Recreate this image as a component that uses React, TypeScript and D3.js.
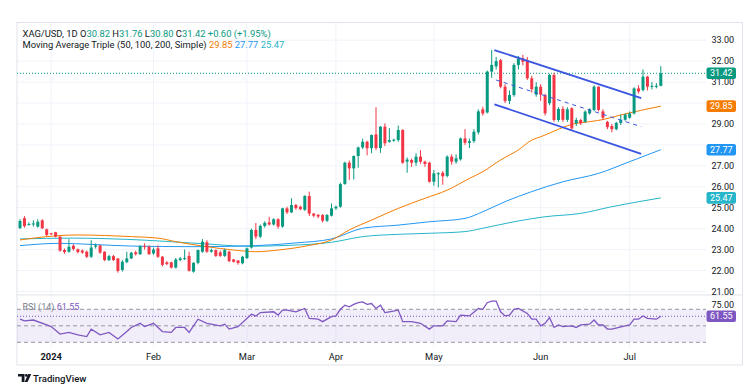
import React from 'react';
import * as d3 from 'd3';

// ---------- data ----------
const opens = [
  24.03, 24.5, 24.2, 24.2, 24.1, 24.4, 23.97, 23.78, 23.83, 23.62,
  22.98, 22.9, 23.19, 23.02, 22.96, 22.9, 22.66, 23.14, 23.2, 22.9,
  22.5, 22.69, 22.58, 22.03, 22.4, 22.58, 22.87, 22.78, 23.17, 23.14,
  22.82, 23.06, 22.66, 22.39, 22.39, 22.14, 22.5, 22.55, 22.7, 21.95,
  22.37, 22.9, 23.35, 22.9, 22.98, 22.87, 22.7, 22.9, 22.53, 22.48,
  22.35, 22.6, 23.1, 23.94, 23.62, 24.13, 24.3, 24.2, 24.45, 24.1,
  24.97, 24.78, 25.13, 25.05, 24.9, 25.56, 24.72, 24.66, 24.65, 24.38,
  24.62, 24.97, 25.05, 26.13, 27.15, 26.88, 27.47, 27.88, 28.15, 27.84,
  28.5, 27.85, 28.87, 28.15, 28.2, 28.23, 28.71, 27.2, 27.28, 27.15,
  27.44, 27.2, 27.15, 26.24, 26.6, 26.67, 26.52, 27.44, 27.2, 27.31,
  28.31, 28.1, 28.18, 28.6, 29.7, 29.55, 31.5, 31.75, 32.05, 30.78,
  30.1, 30.38, 31.82, 32.13, 32.05, 31.18, 30.4, 30.78, 30.38, 29.99,
  31.34, 29.19, 29.72, 29.2, 29.75, 29.03, 29.19, 29.1, 29.5, 29.67,
  30.78, 29.6, 29.1, 28.9, 28.75, 29.05, 29.2, 29.3, 29.5, 30.7,
  30.62, 31.26, 30.78, 30.8, 30.82,
];
const highs = [
  24.45, 24.6, 24.3, 24.4, 24.45, 24.45, 24.0, 23.8, 23.85, 23.65,
  23.05, 23.5, 23.25, 23.05, 23.0, 22.95, 23.45, 23.3, 23.22, 22.92,
  22.75, 22.75, 22.6, 22.5, 22.9, 22.9, 22.95, 23.2, 23.3, 23.2,
  23.1, 23.2, 22.7, 22.45, 22.42, 22.6, 22.65, 23.0, 22.9, 22.4,
  23.0, 23.5, 23.45, 23.05, 23.0, 22.95, 23.05, 22.95, 22.56, 22.5,
  22.7, 23.1, 24.0, 24.27, 24.2, 24.35, 24.57, 24.5, 24.5, 25.0,
  25.05, 25.45, 25.18, 25.1, 25.6, 25.77, 24.75, 24.7, 24.7, 24.7,
  25.2, 25.1, 26.2, 27.2, 27.25, 27.5, 27.92, 28.3, 28.2, 28.5,
  29.8, 28.9, 29.03, 28.8, 28.3, 28.92, 28.75, 27.4, 27.35, 27.6,
  27.75, 27.25, 27.2, 26.8, 26.7, 26.75, 27.5, 27.55, 27.55, 28.35,
  28.75, 28.3, 28.75, 29.7, 29.82, 31.55, 32.53, 32.2, 32.1, 30.9,
  30.6, 31.9, 32.25, 32.3, 32.2, 31.3, 31.0, 30.9, 30.45, 31.4,
  31.45, 29.8, 29.85, 29.8, 29.8, 29.3, 29.25, 29.65, 29.75, 30.85,
  30.8, 29.7, 29.15, 29.0, 29.1, 29.45, 29.5, 29.6, 30.75, 30.85,
  31.6, 31.3, 31.0, 30.95, 31.76,
];
const lows = [
  23.98, 24.05, 24.15, 24.1, 24.05, 23.98, 23.65, 23.7, 23.58, 22.9,
  22.8, 22.85, 22.95, 22.82, 22.8, 22.6, 22.6, 23.05, 22.8, 22.45,
  22.45, 22.45, 21.9, 21.95, 22.35, 22.55, 22.72, 22.75, 23.0, 22.75,
  22.75, 22.6, 22.2, 22.25, 22.1, 22.1, 22.45, 22.5, 21.95, 21.9,
  22.3, 22.85, 22.85, 22.85, 22.65, 22.65, 22.65, 22.4, 22.38, 22.28,
  22.3, 22.55, 23.05, 23.5, 23.55, 24.05, 24.15, 24.15, 24.0, 24.05,
  24.7, 24.75, 24.9, 24.88, 24.85, 24.6, 24.55, 24.5, 24.3, 24.32,
  24.58, 24.9, 25.0, 26.1, 26.33, 26.35, 26.91, 27.8, 27.5, 27.6,
  27.75, 27.62, 27.95, 28.1, 28.15, 28.15, 27.1, 26.67, 26.95, 27.0,
  27.1, 26.95, 26.2, 26.05, 25.97, 26.1, 26.45, 27.05, 27.1, 27.25,
  28.0, 27.85, 28.1, 28.5, 29.4, 29.5, 31.2, 31.6, 30.7, 30.0,
  29.95, 30.3, 31.6, 31.8, 31.1, 30.5, 30.3, 30.1, 29.4, 29.9,
  29.1, 29.1, 29.1, 29.1, 28.7, 28.9, 28.95, 29.05, 29.45, 29.6,
  29.6, 29.2, 28.75, 28.6, 28.7, 28.95, 29.15, 29.25, 29.45, 30.45,
  30.55, 30.6, 30.65, 30.7, 30.8,
];
const closes = [
  24.37, 24.12, 24.22, 24.25, 24.33, 24.02, 23.7, 23.74, 23.62, 22.95,
  22.88, 23.14, 23.03, 22.88, 22.86, 22.66, 23.1, 23.2, 22.86, 22.5,
  22.69, 22.5, 21.98, 22.42, 22.58, 22.85, 22.78, 23.17, 23.15, 22.78,
  23.0, 22.66, 22.27, 22.31, 22.14, 22.53, 22.58, 22.6, 21.99, 22.37,
  22.98, 23.38, 22.9, 22.98, 22.7, 22.7, 22.98, 22.45, 22.42, 22.36,
  22.66, 23.06, 23.94, 23.62, 24.13, 24.28, 24.2, 24.45, 24.1, 24.97,
  24.78, 25.13, 24.98, 24.93, 25.56, 24.72, 24.62, 24.58, 24.38, 24.65,
  24.97, 25.05, 26.13, 27.15, 26.88, 27.47, 27.88, 28.15, 27.84, 28.47,
  27.85, 28.87, 28.08, 28.23, 28.25, 28.71, 27.15, 27.3, 27.15, 27.44,
  27.2, 27.09, 26.24, 26.64, 26.65, 26.5, 27.44, 27.2, 27.36, 28.31,
  28.1, 28.18, 28.63, 29.6, 29.5, 31.5, 31.82, 32.0, 30.78, 30.1,
  30.38, 31.82, 32.13, 31.97, 31.18, 30.66, 30.78, 30.4, 29.51, 31.34,
  29.19, 29.72, 29.2, 29.7, 28.79, 29.19, 29.03, 29.59, 29.7, 30.78,
  29.67, 29.3, 28.85, 28.75, 29.05, 29.2, 29.45, 29.5, 30.7, 30.55,
  31.26, 30.78, 30.82, 30.82, 31.42,
];

// moving averages read at sample bars: [bar index, value]
const ma50: [number, number][] = [
  [0, 23.46], [5, 23.6], [13, 23.7], [25, 23.62], [31, 23.55], [35, 23.38],
  [42, 23.14], [48, 22.98], [53, 22.9], [58, 22.98], [65, 23.2], [70, 23.46],
  [74, 23.94], [79, 24.41], [85, 24.97], [91, 25.45], [96, 25.84], [101, 26.4],
  [104, 26.72], [108, 27.28], [112, 27.76], [115, 28.23], [117, 28.39],
  [125, 29.03], [128, 29.11], [131, 29.21], [135, 29.43], [144, 29.85],
];
const ma100: [number, number][] = [
  [0, 23.19], [9, 23.3], [16, 23.25], [25, 23.17], [39, 23.14], [53, 23.19],
  [62, 23.32], [70, 23.51], [77, 24.02], [85, 24.17], [92, 24.33], [100, 24.49],
  [104, 24.81], [109, 25.29], [115, 25.77], [122, 26.24], [130, 26.64],
  [137, 27.2], [144, 27.77],
];
const ma200: [number, number][] = [
  [0, 23.51], [12, 23.55], [24, 23.49], [42, 23.27], [51, 23.16], [60, 23.2],
  [70, 23.35], [77, 23.62], [85, 23.73], [92, 23.78], [100, 23.86], [104, 24.02],
  [111, 24.33], [118, 24.57], [126, 24.73], [133, 25.05], [144, 25.47],
];

// RSI(14) read at sample bars: [bar index, value]
const rsi: [number, number][] = [
  [0, 58], [1, 56], [3, 57], [6, 51], [7, 49], [9, 40], [11, 42], [13, 39],
  [15, 37], [16, 46], [18, 39], [20, 42], [22, 34], [24, 43], [25, 48], [27, 53],
  [28, 49], [30, 53], [32, 43], [34, 42], [35, 48], [37, 48], [38, 42], [40, 58],
  [42, 53], [45, 50], [46, 52], [47, 46], [49, 49], [52, 64], [53, 62], [54, 66],
  [57, 67], [58, 63], [59, 69], [60, 69], [62, 67], [64, 71], [65, 59], [67, 58],
  [68, 55], [70, 61], [71, 62], [72, 70], [73, 75], [74, 73], [75, 76], [76, 78],
  [77, 79], [78, 76], [79, 77], [80, 71], [81, 75], [82, 66], [83, 67], [85, 69],
  [86, 55], [88, 55], [90, 53], [92, 46], [93, 50], [95, 50], [96, 56], [98, 55],
  [99, 63], [101, 62], [103, 71], [104, 70], [105, 78], [106, 80], [107, 80],
  [108, 67], [109, 62], [110, 63], [111, 70], [112, 71], [114, 65], [115, 58],
  [116, 58], [117, 50], [118, 53], [119, 60], [120, 48], [121, 51], [122, 49],
  [124, 50], [125, 48], [126, 51], [128, 52], [129, 57], [130, 51], [131, 51],
  [132, 46], [133, 46], [136, 50], [137, 51], [138, 58], [139, 58], [140, 62],
  [141, 59], [143, 58], [144, 61.55],
];

// descending channel drawn on the chart: [bar index, price]
const channelUpper: [number, number][] = [[106.6, 32.53], [139.6, 30.23]];
const channelLower: [number, number][] = [[106.6, 29.94], [139.6, 27.57]];
const channelMid: [number, number][] = [[107.0, 31.1], [139.6, 28.87]];

const monthIdx = [7, 30, 51, 71, 93, 117, 137];
const monthLabels = ['2024', 'Feb', 'Mar', 'Apr', 'May', 'Jun', 'Jul'];
const priceTicks = [21, 22, 23, 24, 25, 26, 27, 28, 29, 30, 31, 32, 33];
const rsiLevels = [70, 50, 30];
const lastClose = 31.42;
const lastMA = [29.85, 27.77, 25.47];
const lastRsi = 61.55;

// ---------- styling ----------
const UP = '#089981';
const DOWN = '#F23645';
const C50 = '#F57C00';
const C100 = '#2196F3';
const C200 = '#26B5C9';
const CHAN = '#3A55E0';
const RSI_C = '#7E57C2';
const GRID = '#f0f3fa';
const BORDER = '#e0e3eb';
const TXT = '#131722';
const FONT = 'Roboto, "Liberation Sans", sans-serif';

const W = 753;
const H = 387;
const plotL = 17;
const plotR = 706;
const frameR = 742.5;
const frameT = 22.5;
const mainB = 295;
const rsiB = 347;
const frameB = 365;

export default function App() {
  const n = closes.length;
  const x = d3.scaleLinear().domain([0, n - 1]).range([20, 660.8]);
  const y = d3.scaleLinear().domain([21, 33]).range([291.5, 40.2]);
  const yr = d3.scaleLinear().domain([30, 70]).range([342.3, 309.3]);

  const maLine = d3
    .line<[number, number]>()
    .x((d) => x(d[0]))
    .y((d) => y(d[1]))
    .curve(d3.curveMonotoneX);
  const straight = d3
    .line<[number, number]>()
    .x((d) => x(d[0]))
    .y((d) => y(d[1]));
  const rsiLine = d3
    .line<[number, number]>()
    .x((d) => x(d[0]))
    .y((d) => yr(d[1]));

  const bodyW = 3;
  const maColors = [C50, C100, C200];

  // price-axis tick labels hidden behind the value badges (as TradingView does)
  const badgeYs = [lastClose, ...lastMA].map((v) => y(v));
  const visibleTicks = priceTicks.filter((p) =>
    badgeYs.every((by) => Math.abs(by - y(p)) > 8)
  );

  const box = (val: number, yy: number, color: string, key: string) => (
    <g key={key}>
      <rect x={706.5} y={yy - 5.8} width={29.5} height={11.6} rx={2} fill={color} />
      <text
        x={721.25}
        y={yy + 3.2}
        textAnchor="middle"
        fontSize={9}
        fill="#fff"
        fontFamily={FONT}
      >
        {val.toFixed(2)}
      </text>
    </g>
  );

  return (
    <svg
      width={W}
      height={H}
      style={{ position: 'absolute', left: 0, top: 0, background: '#fff' }}
      fontFamily={FONT}
    >
      <defs>
        <clipPath id="mainClip">
          <rect x={plotL} y={frameT} width={plotR - plotL} height={mainB - frameT} />
        </clipPath>
        <clipPath id="rsiClip">
          <rect x={plotL} y={mainB} width={plotR - plotL} height={rsiB - mainB} />
        </clipPath>
      </defs>
      <rect x={0} y={0} width={W} height={H} fill="#fff" />

      {/* grid */}
      {priceTicks.map((p) => (
        <line key={'hg' + p} x1={plotL} x2={plotR} y1={y(p)} y2={y(p)} stroke={GRID} />
      ))}
      {monthIdx.map((i) => (
        <line key={'vg' + i} x1={x(i)} x2={x(i)} y1={frameT} y2={rsiB} stroke={GRID} />
      ))}

      {/* frame */}
      <rect
        x={plotL}
        y={frameT}
        width={frameR - plotL}
        height={frameB - frameT}
        fill="none"
        stroke={BORDER}
      />
      <line x1={plotL} x2={frameR} y1={mainB} y2={mainB} stroke={BORDER} />

      {/* main pane */}
      <g clipPath="url(#mainClip)">
        {[ma200, ma100, ma50].map((s, k) => (
          <path
            key={'ma' + k}
            d={maLine(s) || ''}
            fill="none"
            stroke={[C200, C100, C50][k]}
            strokeWidth={1}
          />
        ))}
        <line
          x1={plotL}
          x2={plotR}
          y1={y(lastClose)}
          y2={y(lastClose)}
          stroke={UP}
          strokeDasharray="1,2"
          strokeWidth={1}
        />
        {closes.map((c, i) => {
          const o = opens[i];
          const col = c >= o ? UP : DOWN;
          const top = y(Math.max(o, c));
          const bot = y(Math.min(o, c));
          return (
            <g key={'c' + i}>
              <line
                x1={x(i)}
                x2={x(i)}
                y1={y(highs[i])}
                y2={y(lows[i])}
                stroke={col}
                strokeWidth={1}
              />
              <rect
                x={x(i) - bodyW / 2}
                y={top}
                width={bodyW}
                height={Math.max(1, bot - top)}
                fill={col}
              />
            </g>
          );
        })}
        <path d={straight(channelUpper) || ''} stroke={CHAN} strokeWidth={1.8} fill="none" />
        <path d={straight(channelLower) || ''} stroke={CHAN} strokeWidth={1.8} fill="none" />
        <path
          d={straight(channelMid) || ''}
          stroke={CHAN}
          strokeWidth={1}
          strokeDasharray="4,4"
          fill="none"
        />
      </g>

      {/* price axis */}
      {visibleTicks.map((p) => (
        <text
          key={'pt' + p}
          x={711.5}
          y={y(p) + 3.2}
          fontSize={9}
          fill={TXT}
        >
          {p.toFixed(2)}
        </text>
      ))}
      {box(lastClose, y(lastClose), UP, 'b0')}
      {lastMA.map((v, k) => box(v, y(v), maColors[k], 'bm' + k))}

      {/* legend */}
      <text x={22.5} y={36.5} fontSize={9.4} fill={TXT}>
        <tspan>XAG/USD, 1D </tspan>
        <tspan> O</tspan>
        <tspan fill={UP}>{opens[n - 1].toFixed(2)}</tspan>
        <tspan> H</tspan>
        <tspan fill={UP}>{highs[n - 1].toFixed(2)}</tspan>
        <tspan> L</tspan>
        <tspan fill={UP}>{lows[n - 1].toFixed(2)}</tspan>
        <tspan> C</tspan>
        <tspan fill={UP}>{closes[n - 1].toFixed(2)}</tspan>
        <tspan fill={UP}> +0.60 (+1.95%)</tspan>
      </text>
      <text x={22.5} y={47.5} fontSize={9.4} fill={TXT}>
        <tspan>Moving Average Triple (50, 100, 200, Simple)</tspan>
        {lastMA.map((v, k) => (
          <tspan key={'lm' + k} fill={maColors[k]}>
            {'  ' + v.toFixed(2)}
          </tspan>
        ))}
      </text>

      {/* RSI pane */}
      <rect
        x={plotL}
        y={yr(70)}
        width={plotR - plotL}
        height={yr(30) - yr(70)}
        fill={RSI_C}
        fillOpacity={0.1}
      />
      {rsiLevels.map((lv) => (
        <line
          key={'rl' + lv}
          x1={plotL}
          x2={plotR}
          y1={yr(lv)}
          y2={yr(lv)}
          stroke="#9598a1"
          strokeDasharray="4,3"
        />
      ))}
      <line
        x1={plotL}
        x2={plotR}
        y1={yr(lastRsi)}
        y2={yr(lastRsi)}
        stroke={RSI_C}
        strokeDasharray="1,2"
      />
      <g clipPath="url(#rsiClip)">
        <path d={rsiLine(rsi) || ''} fill="none" stroke={RSI_C} strokeWidth={1.3} />
      </g>
      <text x={22.5} y={309.8} fontSize={9} fill="#787b86">
        RSI (14)
        <tspan fill={RSI_C}>{'  ' + lastRsi.toFixed(2)}</tspan>
      </text>
      <text x={711.5} y={yr(75) + 3.2} fontSize={9} fill={TXT}>
        75.00
      </text>
      {box(lastRsi, yr(lastRsi), RSI_C, 'br')}

      {/* time axis */}
      {monthIdx.map((i, k) => (
        <text
          key={'ml' + k}
          x={x(i)}
          y={359.5}
          textAnchor="middle"
          fontSize={9.3}
          fontWeight={k === 0 ? 700 : 400}
          fill={TXT}
        >
          {monthLabels[k]}
        </text>
      ))}

      {/* TradingView logo */}
      <g fill={TXT}>
        <path d="M18 374 H24.5 V382 H21.7 V376.6 H18 Z" />
        <circle cx={26.3} cy={375.4} r={1.4} />
        <path d="M28.2 374 H31.2 L27.6 382 H24.7 Z" />
      </g>
      <text x={33} y={381.5} fontSize={9.6} fill={TXT} fontWeight={500}>
        TradingView
      </text>
    </svg>
  );
}
